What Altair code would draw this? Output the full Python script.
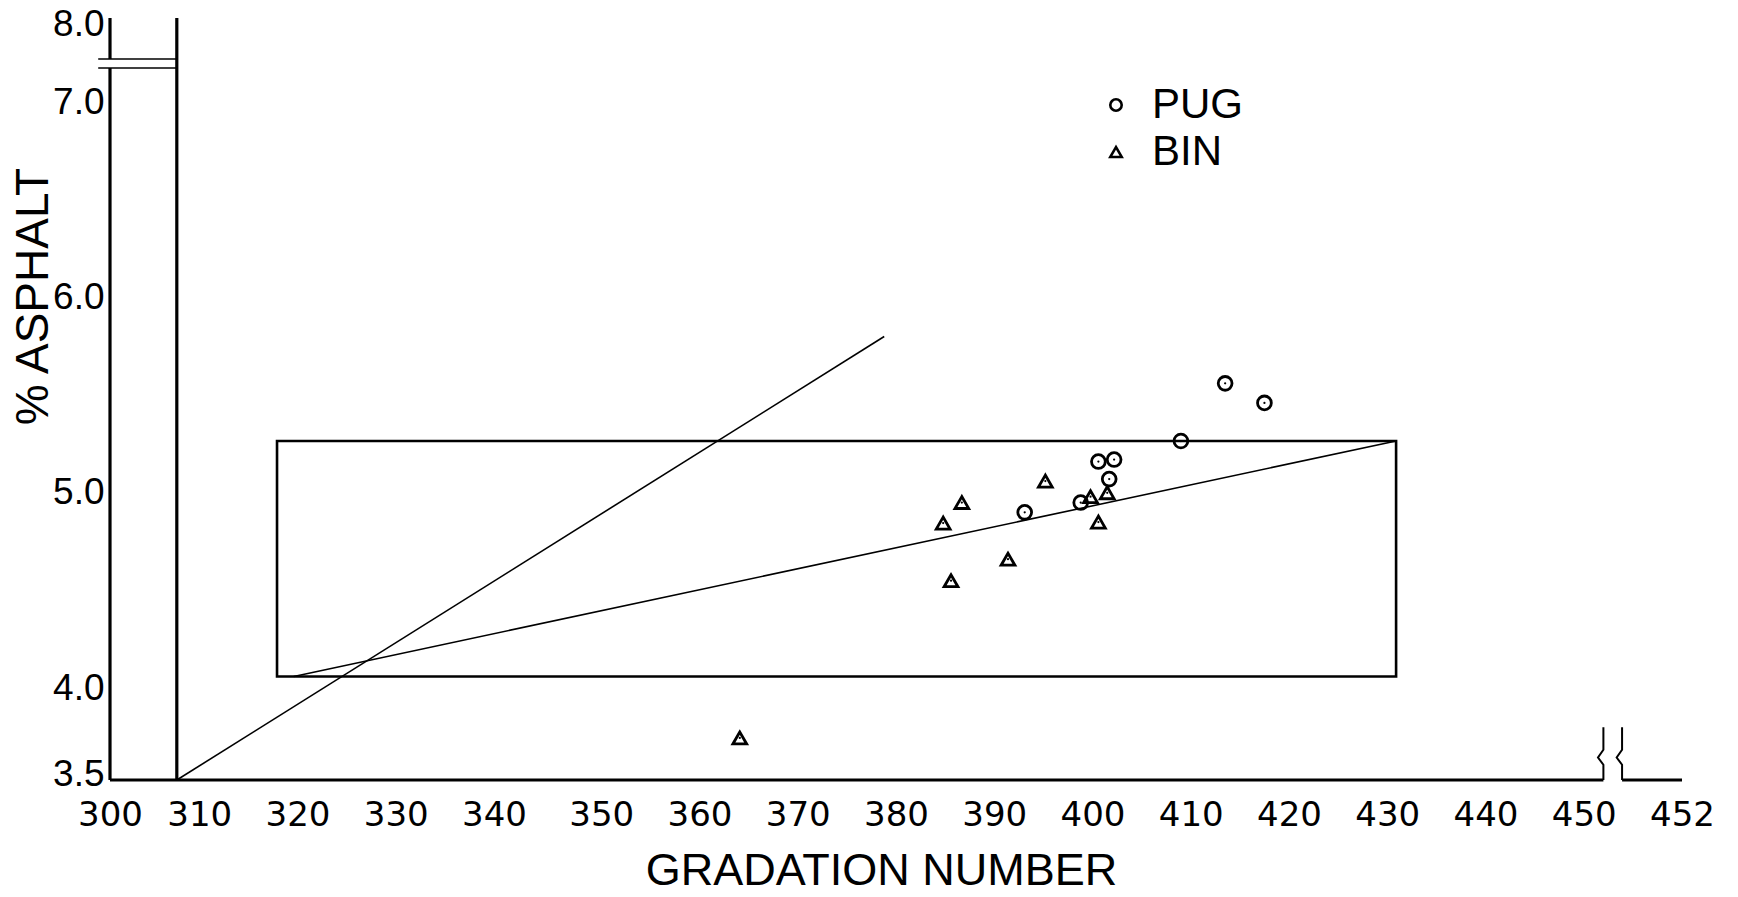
import altair as alt
import pandas as pd

# ---------------- data ----------------
pug_x = [413.5, 417.5, 409.0, 400.6, 402.2, 401.7, 393.1, 398.8]
pug_y = [5.53, 5.43, 5.235, 5.13, 5.14, 5.04, 4.87, 4.92]
bin_x = [395.2, 386.7, 384.8, 399.8, 401.5, 400.6, 391.4, 385.6, 364.1]
bin_y = [5.03, 4.92, 4.815, 4.95, 4.97, 4.82, 4.63, 4.52, 3.715]

rect_x = [317.0, 430.9]
rect_y = [4.03, 5.235]
steep_x = [306.8, 378.8]
steep_y = [3.5, 5.77]
shallow_x = [318.7, 430.9]
shallow_y = [4.03, 5.235]

x_tick_values = [300, 310, 320, 330, 340, 350, 360, 370, 380, 390, 400, 410,
                 420, 430, 440, 450, 460]
x_tick_labels = ["300", "310", "320", "330", "340", "350", "360", "370", "380",
                 "390", "400", "410", "420", "430", "440", "450", "452"]
y_tick_values = [3.5, 4.0, 5.0, 6.0, 7.0, 7.4]
y_tick_labels = ["3.5", "4.0", "5.0", "6.0", "7.0", "8.0"]

x_domain = [300, 460]
y_domain = [3.5, 7.4]
inner_axis_x = 306.8
x_break = [452.0, 453.9]
x_break_top = 3.77
y_break = [7.144, 7.19]
y_break_left = 298.8

# ---------------- tables ----------------
points = pd.DataFrame({
    "x": pug_x + bin_x,
    "y": pug_y + bin_y,
    "type": ["PUG"] * len(pug_x) + ["BIN"] * len(bin_x),
})

axis_segs = pd.DataFrame([
    {"x": x_domain[0], "y": y_domain[0], "x2": x_domain[0], "y2": y_break[0]},
    {"x": x_domain[0], "y": y_break[1], "x2": x_domain[0], "y2": y_domain[1]},
    {"x": inner_axis_x, "y": y_domain[0], "x2": inner_axis_x, "y2": y_domain[1]},
    {"x": x_domain[0], "y": y_domain[0], "x2": x_break[0], "y2": y_domain[0]},
    {"x": x_break[1], "y": y_domain[0], "x2": x_domain[1], "y2": y_domain[0]},
])
ybreak_segs = pd.DataFrame([
    {"x": y_break_left, "y": yb, "x2": inner_axis_x, "y2": yb} for yb in y_break
])
line_segs = pd.DataFrame([
    {"x": steep_x[0], "y": steep_y[0], "x2": steep_x[1], "y2": steep_y[1]},
    {"x": shallow_x[0], "y": shallow_y[0], "x2": shallow_x[1], "y2": shallow_y[1]},
])
rect_df = pd.DataFrame([{"x": rect_x[0], "x2": rect_x[1], "y": rect_y[0], "y2": rect_y[1]}])

kink_rows = []
for i, xb in enumerate(x_break):
    for k, (dx, yv) in enumerate([(0, x_break_top), (0, 3.655), (-0.55, 3.615),
                                  (0, 3.578), (0, y_domain[0])]):
        kink_rows.append({"x": xb + dx, "y": yv, "g": i, "o": k})
kinks = pd.DataFrame(kink_rows)

# ---------------- scales & axes ----------------
X_SCALE = alt.Scale(domain=x_domain, nice=False, zero=False)
Y_SCALE = alt.Scale(domain=y_domain, nice=False, zero=False)

x_label_expr = "{}[indexof({}, datum.value)]".format(
    "[" + ",".join("'%s'" % s for s in x_tick_labels) + "]",
    "[" + ",".join(str(v) for v in x_tick_values) + "]")
y_label_expr = "{}[indexof({}, datum.value)]".format(
    "[" + ",".join("'%s'" % s for s in y_tick_labels) + "]",
    "[" + ",".join(str(v) for v in y_tick_values) + "]")

X_AXIS = alt.Axis(values=x_tick_values, labelExpr=x_label_expr,
                  title="GRADATION NUMBER", grid=False, ticks=False, domain=False,
                  labelFont="DejaVu Sans", labelFontSize=34, labelColor="black",
                  labelPadding=18, labelFlush=False, labelOverlap=False,
                  labelOffset={"condition": {"test": "datum.value > 300 && datum.value < 345",
                                             "value": -9}, "value": 0},
                  titleFont="Liberation Sans", titleFontSize=45,
                  titleFontWeight="normal", titleColor="black",
                  titleX=771, titleY=90, titleAlign="center",
                  titleBaseline="middle")
Y_AXIS = alt.Axis(values=y_tick_values, labelExpr=y_label_expr,
                  title="% ASPHALT", grid=False, ticks=False, domain=False,
                  labelFont="Liberation Sans", labelFontSize=37, labelColor="black",
                  labelPadding=6, labelFlush=False, labelOverlap=False,
                  labelOffset={"condition": {"test": "datum.value < 3.6",
                                             "value": -6}, "value": 6},
                  titleFont="Liberation Sans", titleFontSize=46,
                  titleFontWeight="normal", titleColor="black",
                  titleX=-77, titleY=278, titleAngle=270, titleAlign="center",
                  titleBaseline="middle")


def xe(field="x"):
    return alt.X(field, type="quantitative", scale=X_SCALE, axis=X_AXIS)


def ye(field="y"):
    return alt.Y(field, type="quantitative", scale=Y_SCALE, axis=Y_AXIS)


axes_layer = alt.Chart(axis_segs).mark_rule(color="black", strokeWidth=3.2).encode(
    x=xe(), y=ye(), x2="x2", y2="y2")
ybreak_layer = alt.Chart(ybreak_segs).mark_rule(color="black", strokeWidth=1.6).encode(
    x=xe(), y=ye(), x2="x2", y2="y2")
kink_layer = alt.Chart(kinks).mark_line(color="black", strokeWidth=2).encode(
    x=xe(), y=ye(), detail="g:N", order="o:Q")
rect_layer = alt.Chart(rect_df).mark_rect(fillOpacity=0, stroke="black",
                                          strokeWidth=2.6).encode(
    x=xe(), x2="x2", y=ye(), y2="y2")
lines_layer = alt.Chart(line_segs).mark_rule(color="black", strokeWidth=1.6).encode(
    x=xe(), y=ye(), x2="x2", y2="y2")

pts_layer = alt.Chart(points).mark_point(filled=False, strokeWidth=2.8, opacity=1).encode(
    x=xe(), y=ye(),
    color=alt.value("black"),
    shape=alt.Shape("type:N",
                    scale=alt.Scale(domain=["PUG", "BIN"],
                                    range=["circle", "triangle-up"]),
                    legend=alt.Legend(orient="none", legendX=985, legendY=66,
                                      title=None, padding=0,
                                      labelFont="Liberation Sans",
                                      labelFontSize=42, labelColor="black",
                                      labelOffset=15, rowPadding=5,
                                      symbolSize=130, symbolStrokeWidth=2.6,
                                      symbolStrokeColor="black",
                                      symbolFillColor="white",
                                      symbolType="circle")),
    size=alt.value(190),
)
dots_layer = alt.Chart(points).mark_circle(color="black", size=5, opacity=1).encode(
    x=xe(), y=ye())

chart = alt.layer(
    axes_layer, ybreak_layer, kink_layer, rect_layer, lines_layer, pts_layer, dots_layer
).properties(
    width=1572, height=762,
    autosize=alt.AutoSizeParams(type="none"),
    padding={"left": 110, "top": 18, "right": 56, "bottom": 117},
    background="white",
).configure_view(stroke=None)

chart.save("out.html", embed_options={"renderer": "svg", "actions": False})
